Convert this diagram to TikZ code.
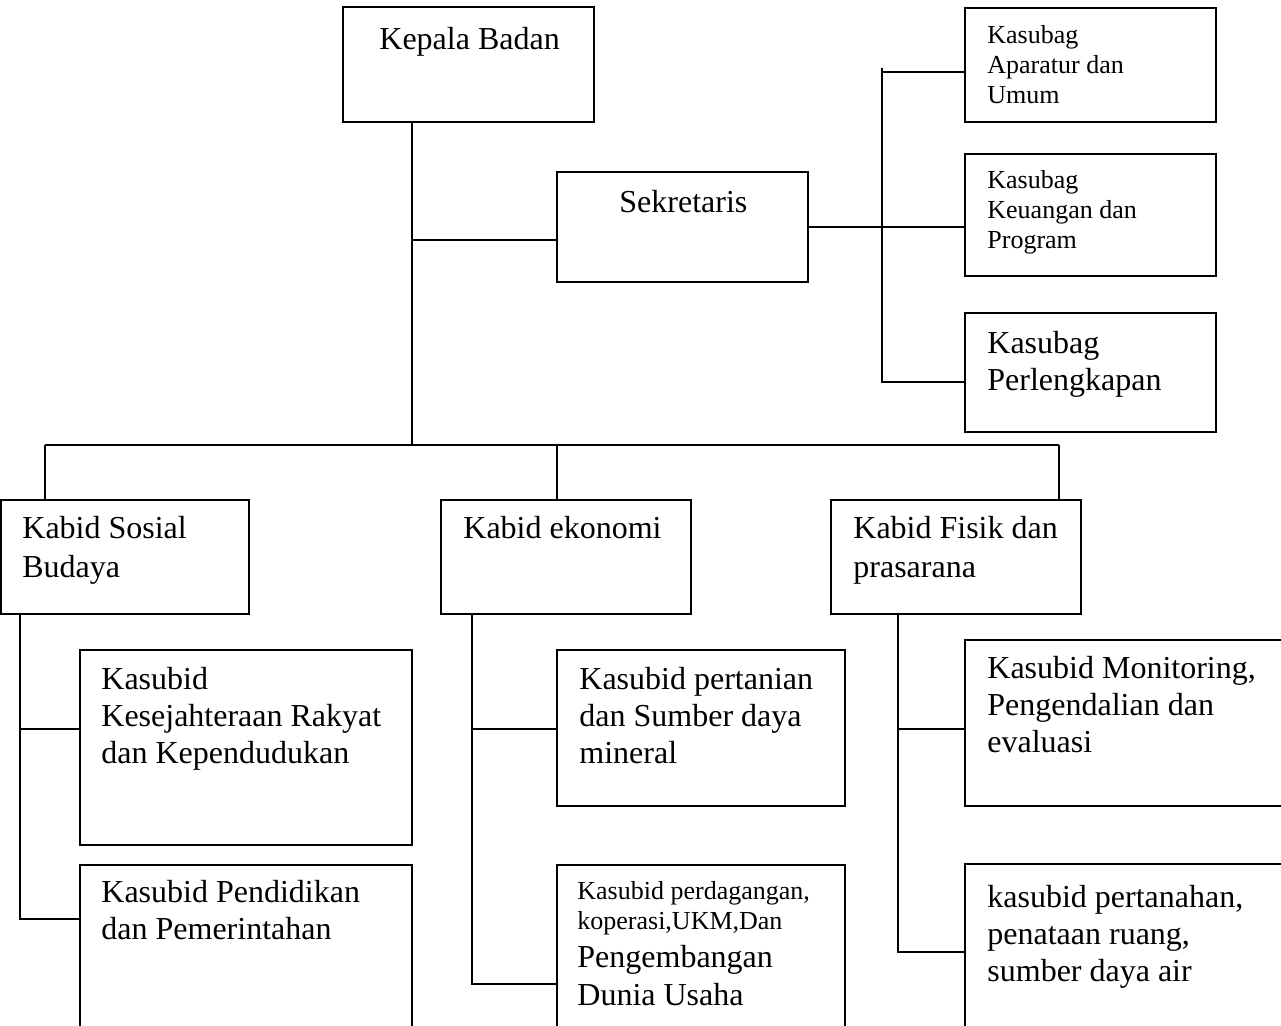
\documentclass[tikz,border=0pt]{standalone}
\usepackage{fontspec}
\setmainfont{Liberation Serif}
\usetikzlibrary{fit}

\newcommand{\bigtxt}{\fontsize{16}{18.6}\selectfont}
\newcommand{\kabidtxt}{\fontsize{16}{19.6}\selectfont}
\newcommand{\smalltxt}{\fontsize{13}{15.2}\selectfont}
\newcommand{\rows}[1]{\begin{tabular}[t]{@{}l@{}}#1\end{tabular}}

\tikzset{
    box/.style={draw, line width=0.9pt, inner sep=0pt},
    txt/.style={anchor=base west, inner sep=0pt, font=\bigtxt},
    link/.style={line width=0.9pt},
}

\begin{document}
\begin{tikzpicture}[x=0.5pt, y=-0.5pt]
                \useasboundingbox (0,0) rectangle (1281,1025);
                \clip (0,0) rectangle (1281,1025);
                % top level
                \node[box, fit={(343,7) (594,122)}] (kepala) {};
                \node[box, fit={(557,172) (808,282)}] (sekretaris) {};
                \node[txt] (kepalaT) at (379,49) {Kepala Badan};
                \node[txt] (sekretarisT) at (619,212) {Sekretaris};
                % kasubag column
                \node[box, fit={(965,8) (1216,122)}] (aparatur) {};
                \node[box, fit={(965,154) (1216,276)}] (keuangan) {};
                \node[box, fit={(965,313) (1216,432)}] (perlengkapan) {};
                \node[txt, font=\smalltxt] (aparaturT) at (987,43) {\rows{Kasubag\\Aparatur dan\\Umum}};
                \node[txt, font=\smalltxt] (keuanganT) at (987,188) {\rows{Kasubag\\Keuangan dan\\Program}};
                \node[txt] (perlengkapanT) at (987,353) {\rows{Kasubag\\Perlengkapan}};
                % kabid row
                \node[box, fit={(1,500) (249,614)}] (sosial) {};
                \node[box, fit={(441,500) (691,614)}] (ekonomi) {};
                \node[box, fit={(831,500) (1081,614)}] (fisik) {};
                \node[txt, font=\kabidtxt] (sosialT) at (22,538) {\rows{Kabid Sosial\\Budaya}};
                \node[txt, font=\kabidtxt] (ekonomiT) at (463,538) {Kabid ekonomi};
                \node[txt, font=\kabidtxt] (fisikT) at (853,538) {\rows{Kabid Fisik dan\\prasarana}};
                % kasubid boxes
                \node[box, fit={(80,650) (412,845)}] (kesra) {};
                \node[box, fit={(80,865) (412,1040)}] (pendidikan) {};
                \node[box, fit={(557,650) (845,806)}] (pertanian) {};
                \node[box, fit={(557,865) (845,1040)}] (dagang) {};
                \node[box, fit={(965,640) (1295,806)}] (monitoring) {};
                \node[box, fit={(965,864) (1295,1040)}] (tanah) {};
                \node[txt] (kesraT) at (101,689) {\rows{Kasubid\\Kesejahteraan Rakyat\\dan Kependudukan}};
                \node[txt] (pendidikanT) at (101,902) {\rows{Kasubid Pendidikan\\dan Pemerintahan}};
                \node[txt] (pertanianT) at (579,689) {\rows{Kasubid pertanian\\dan Sumber daya\\mineral}};
                \node[txt, font=\smalltxt] (dagangT) at (577,899) {\rows{Kasubid perdagangan,\\koperasi,UKM,Dan\\[3.4pt]\bigtxt Pengembangan\\[3.4pt]\bigtxt Dunia Usaha}};
                \node[txt] (monitoringT) at (987,678) {\rows{Kasubid Monitoring,\\Pengendalian dan\\evaluasi}};
                \node[txt] (tanahT) at (987,907) {\rows{kasubid pertanahan,\\penataan ruang,\\sumber daya air}};
                % junctions
                \coordinate (trunk) at (412,445);
                \coordinate (sekJ) at (412,240);
                \coordinate (spine) at (882,68);
                \coordinate (apJ) at (882,72);
                \coordinate (plJ) at (882,382);
                \coordinate (busL) at (45,445);
                \coordinate (busM) at (557,445);
                \coordinate (busR) at (1059,445);
                \coordinate (kesraJ) at (20,729);
                \coordinate (pendJ) at (20,919);
                \coordinate (tanJ) at (472,729);
                \coordinate (dagJ) at (472,984);
                \coordinate (monJ) at (898,729);
                \coordinate (tnhJ) at (898,952);
                % connectors
                \draw[link] (trunk |- kepala.south) -- (trunk);
                \draw[link] (sekJ) -- (sekJ -| sekretaris.west);
                \draw[link] (sekretaris.east) -- (sekretaris.east -| keuangan.west);
                \draw[link] (spine) -- (plJ) -- (plJ -| perlengkapan.west);
                \draw[link] (apJ) -- (apJ -| aparatur.west);
                \draw[link] (busL) -- (busR);
                \draw[link] (busL) -- (busL |- sosial.north);
                \draw[link] (busM) -- (busM |- ekonomi.north);
                \draw[link] (busR) -- (busR |- fisik.north);
                \draw[link] (kesraJ |- sosial.south) -- (pendJ) -- (pendJ -| pendidikan.west);
                \draw[link] (kesraJ) -- (kesraJ -| kesra.west);
                \draw[link] (tanJ |- ekonomi.south) -- (dagJ) -- (dagJ -| dagang.west);
                \draw[link] (tanJ) -- (tanJ -| pertanian.west);
                \draw[link] (monJ |- fisik.south) -- (tnhJ) -- (tnhJ -| tanah.west);
                \draw[link] (monJ) -- (monJ -| monitoring.west);
            \end{tikzpicture}
\end{document}
